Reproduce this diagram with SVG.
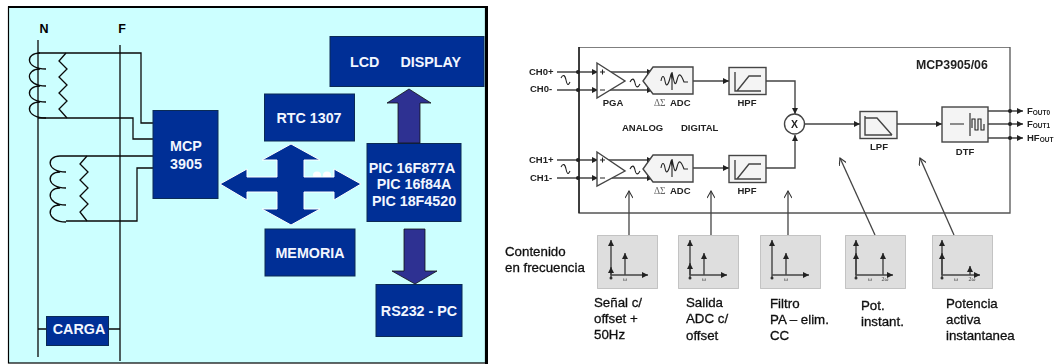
<svg xmlns="http://www.w3.org/2000/svg" width="1054" height="364" viewBox="0 0 1054 364">
<style>
.bl{fill:#002F96;stroke:#0B2B55;stroke-width:1}
.w{font:bold 14.300px "Liberation Sans",Arial,sans-serif;fill:#F2F6FF;text-anchor:middle}
.k{fill:none;stroke:#0A0A0A;stroke-width:1.3}
.p{fill:#2E3192;stroke:#111;stroke-width:.8}
.g{fill:none;stroke:#444;stroke-width:1.400}
.ga{fill:none;stroke:#444;stroke-width:1.400;marker-end:url(#a)}
.t{font:bold 9.500px "Liberation Sans",Arial,sans-serif;fill:#222}
.c{text-anchor:middle}
.s{font:13.300px "Liberation Sans",Arial,sans-serif;fill:#111;stroke:#111;stroke-width:.3}
.sb{fill:#DEDEDE;stroke:#999;stroke-width:1;stroke-dasharray:1 1}
.call{fill:none;stroke:#444;stroke-width:1.300;marker-end:url(#o)}
.box{fill:#F4F4F4;stroke:#444;stroke-width:1.400}
.wave{fill:none;stroke:#222;stroke-width:1.100}
.w2{font:6px "Liberation Serif",serif;fill:#444;text-anchor:middle}
</style>
<defs>
<marker id="a" markerWidth="7" markerHeight="6" refX="6" refY="3" orient="auto" markerUnits="userSpaceOnUse"><path d="M0 0L6 3L0 6z" fill="#222"/></marker>
<marker id="o" markerWidth="9" markerHeight="8" refX="8" refY="4" orient="auto" markerUnits="userSpaceOnUse"><path d="M1 0L8 4L1 8" fill="none" stroke="#333" stroke-width="1.100"/></marker>
<filter id="b" x="0" y="0" width="100%" height="100%"><feGaussianBlur stdDeviation="0.3"/></filter>
</defs>
<rect width="1054" height="364" fill="#fff"/>

<g id="panel-left">
<rect x="8.500" y="7" width="477" height="356" fill="#CCFFFF" stroke="#000" stroke-width="1.200"/>
<rect x="485" y="6" width="3" height="358" fill="#000"/>
<rect x="8" y="6" width="478" height="2" fill="#000"/>
</g>

<g id="connectors-left">
<path class="k" d="M38 40V357M120 45V361"/>
<path class="k" d="M38 53H141V123H153M38 118H133V139H153M60 156H153M66 221H137V168H153M38 329H46M108 329H120"/>
<path class="k" d="M40 53C25 53 25 69 46 69M40 69C25 69 25 86 46 86M40 86C25 86 25 102 46 102M40 102C25 102 25 118 46 118"/>
<path class="k" d="M60 156C46 156 46 172 66 172M60 172C46 172 46 188 66 188M60 188C46 188 46 205 66 205M60 205C46 205 46 222 66 222"/>
<path class="k" d="M66 53L59 61L67 69L59 77L67 85L59 93L67 101L59 109L67 118"/>
<path class="k" d="M87 156L80 164L88 172L80 180L88 188L80 196L88 204L80 212L87 221"/>
</g>

<g id="label-N"><text x="44" y="33" style="font:bold 12.500px 'Liberation Sans',Arial,sans-serif;fill:#000" text-anchor="middle">N</text></g>
<g id="label-F"><text x="122" y="33" style="font:bold 12.500px 'Liberation Sans',Arial,sans-serif;fill:#000" text-anchor="middle">F</text></g>

<g id="node-mcp"><rect class="bl" x="153" y="110.500" width="65" height="88"/><text class="w" x="186" y="151">MCP</text><text class="w" x="186" y="169">3905</text></g>
<g id="node-carga"><rect class="bl" x="46.500" y="316.500" width="62" height="29"/><text class="w" x="79" y="334">CARGA</text></g>
<g id="node-lcd"><rect class="bl" x="330" y="36.500" width="154" height="50"/><text class="w" x="350" y="67" style="text-anchor:start">LCD</text><text class="w" x="400.500" y="67" style="text-anchor:start">DISPLAY</text></g>
<g id="node-rtc"><rect class="bl" x="264.500" y="94" width="90" height="47"/><text class="w" x="309" y="123">RTC 1307</text></g>
<g id="node-memoria"><rect class="bl" x="265" y="229" width="90" height="47"/><text class="w" x="310" y="258">MEMORIA</text></g>
<g id="node-pic"><rect class="bl" x="367" y="143.500" width="94" height="78"/><text class="w" x="412" y="173">PIC 16F877A</text><text class="w" x="414" y="189">PIC 16f84A</text><text class="w" x="414" y="206">PIC 18F4520</text></g>
<g id="node-rs232"><rect class="bl" x="376" y="284.500" width="86" height="52"/><text class="w" x="419" y="316">RS232 - PC</text></g>

<g id="arrows-left">
<path class="p" d="M398 143V103H387L409 89L431 103H420V143z"/>
<path class="p" d="M404 229H425V271H437L415 284L392 271H404z"/>
<ellipse cx="317" cy="175" rx="4" ry="3.500" fill="#fff"/><ellipse cx="327" cy="175" rx="4" ry="3.500" fill="#fff"/>
<path fill="#002F96" stroke="#fff" stroke-width="1" d="M220 184L247 169V177H277V160H262L291 144L320 160H304V177H334V169L361 184L334 200V192H304V209H320L291 225L262 209H277V192H247V200z"/>
</g>

<g filter="url(#b)">
<g id="chip-box"><path d="M579 47H1010V213H579z" fill="#fff" stroke="#555" stroke-width="1.300"/><path d="M579 47V213" stroke="#111" stroke-width="1.300"/></g>

<g id="connectors-right">
<path class="ga" d="M557 72H598"/><path class="ga" d="M557 90H598"/><path class="ga" d="M557 160H598"/><path class="ga" d="M557 178H598"/>
<path class="ga" d="M600 72H653"/><path class="ga" d="M600 90H653"/><path class="ga" d="M600 160H653"/><path class="ga" d="M600 178H653"/>
<path class="ga" d="M693 81H729"/><path class="ga" d="M693 168H729"/>
<path class="ga" d="M766 81H795V114"/><path class="ga" d="M766 168H795V135"/>
<path class="ga" d="M805 124H860"/><path class="ga" d="M897 124H942"/>
<path class="ga" d="M988 111H1023"/><path class="ga" d="M988 124H1023"/><path class="ga" d="M988 138H1023"/>
<g fill="#222"><circle cx="578" cy="72" r="2"/><circle cx="578" cy="90" r="2"/><circle cx="578" cy="160" r="2"/><circle cx="578" cy="178" r="2"/><circle cx="1010" cy="111" r="2"/><circle cx="1010" cy="124" r="2"/><circle cx="1010" cy="138" r="2"/></g>
<path class="call" d="M629 235V191"/><path class="call" d="M711 235V191"/><path class="call" d="M788 235V191"/><path class="call" d="M875 235L840 158"/><path class="call" d="M954 235L920 158"/>
</g>

<g id="pga0"><path d="M597 63L625 81L597 98z" fill="#fff" stroke="#444" stroke-width="1.400"/><text class="t c" x="613" y="106">PGA</text><path class="wave" d="M561 78C563 74 565 75 566 80S568 86 570 82M630 82C632 78 634 78 635 83S638 88 640 84M600 72H605M602.500 69.500V74.500M600 90H605"/></g>
<g id="pga1"><path d="M597 152L625 171L597 186z" fill="#fff" stroke="#444" stroke-width="1.400"/><path class="wave" d="M561 167C563 163 565 164 566 169S568 175 570 171M630 169C632 165 634 165 635 170S638 175 640 171M600 160H605M602.500 157.500V162.500M600 178H605"/></g>
<g id="adc0"><path class="box" d="M653 67H693V94H653L643 81z"/><path class="wave" d="M661 81C662 75 664 75 665 81S668 86 670 78S671 74 672 80V90V72C674 82 675 88 677 80S681 74 684 82H688"/><text x="654" y="106" style="font:9.500px 'Liberation Serif',serif;fill:#666">ΔΣ</text><text class="t" x="670" y="106">ADC</text></g>
<g id="adc1"><path class="box" d="M653 155H693V182H653L643 169z"/><path class="wave" d="M661 168C662 162 664 162 665 168S668 173 670 165S671 161 672 167V177V159C674 169 675 175 677 167S681 161 684 169H688"/><text x="654" y="194" style="font:9.500px 'Liberation Serif',serif;fill:#666">ΔΣ</text><text class="t" x="670" y="194">ADC</text></g>
<g id="hpf0"><rect class="box" x="729" y="67.500" width="37" height="27"/><path class="g" d="M735 72V91H737L749 76H761M735 91H761"/><text class="t c" x="747" y="106">HPF</text></g>
<g id="hpf1"><rect class="box" x="729" y="155.500" width="37" height="27"/><path class="g" d="M735 160V179H737L749 164H761M735 179H761"/><text class="t c" x="747" y="194">HPF</text></g>
<g id="mult"><circle cx="794.500" cy="124" r="10" fill="#fff" stroke="#444" stroke-width="1.400"/><text class="t c" x="794.500" y="127.500" style="font-size:10.500px">X</text></g>
<g id="lpf"><rect class="box" x="860" y="111.500" width="37" height="27"/><path class="g" d="M865 116V135H892M865 118H877L892 135"/><text class="t c" x="879" y="150">LPF</text></g>
<g id="dtf"><rect class="box" x="942" y="107" width="46" height="35"/><path class="wave" d="M950 124H964M970 113V136M972 128V119H975V130H978V119H981V130H984V124"/><text class="t c" x="965" y="155">DTF</text></g>

<g id="labels-right">
<text class="t" x="529" y="75">CH0+</text><text class="t" x="530" y="92">CH0-</text><text class="t" x="529" y="163">CH1+</text><text class="t" x="530" y="181">CH1-</text>
<text class="t" x="622" y="131">ANALOG</text><text class="t" x="681" y="131">DIGITAL</text>
<text x="916" y="68.500" style="font:bold 12.300px 'Liberation Sans',Arial,sans-serif;fill:#222">MCP3905/06</text>
<text class="t" x="1027" y="114">F<tspan style="font-size:6.500px" dy="1">OUT0</tspan></text>
<text class="t" x="1027" y="127">F<tspan style="font-size:6.500px" dy="1">OUT1</tspan></text>
<text class="t" x="1027" y="141">HF<tspan style="font-size:6.500px" dy="1">OUT</tspan></text>
<text class="s" x="505" y="256">Contenido</text><text class="s" x="505" y="272">en frecuencia</text>
<text class="s" x="594" y="307">Señal c/</text><text class="s" x="594" y="323">offset +</text><text class="s" x="594" y="339">50Hz</text>
<text class="s" x="686" y="307">Salida</text><text class="s" x="686" y="323">ADC c/</text><text class="s" x="686" y="340">offset</text>
<text class="s" x="770" y="308">Filtro</text><text class="s" x="770" y="324">PA – elim.</text><text class="s" x="770" y="340">CC</text>
<text class="s" x="861" y="310">Pot.</text><text class="s" x="861" y="326">instant.</text>
<text class="s" x="946" y="308">Potencia</text><text class="s" x="946" y="324">activa</text><text class="s" x="946" y="340">instantanea</text>
</g>

<g id="spec1"><rect class="sb" x="597.500" y="235.500" width="60" height="53"/><path class="ga" d="M611 278V240"/><path class="ga" d="M611 275V267"/><path class="ga" d="M625 275V253"/><path class="ga" d="M611 275H648"/><circle cx="611" cy="278" r="1.500" fill="#333"/><text class="w2" x="625" y="281">ω</text></g>
<g id="spec2"><rect class="sb" x="678.500" y="235.500" width="60" height="53"/><path class="ga" d="M690 278V240"/><path class="ga" d="M690 275V263"/><path class="ga" d="M704 275V253"/><path class="ga" d="M690 275H727"/><circle cx="690" cy="278" r="1.500" fill="#333"/><text class="w2" x="704" y="281">ω</text></g>
<g id="spec3"><rect class="sb" x="760.500" y="235.500" width="60" height="53"/><path class="ga" d="M772 278V240"/><path class="ga" d="M786 275V253"/><path class="ga" d="M772 275H809"/><circle cx="772" cy="278" r="1.500" fill="#333"/><text class="w2" x="786" y="281">ω</text></g>
<g id="spec4"><rect class="sb" x="845.500" y="235.500" width="60" height="53"/><path class="ga" d="M856 278V240"/><path class="ga" d="M856 275V253"/><path class="ga" d="M883 275V253"/><path class="ga" d="M856 275H893"/><circle cx="856" cy="278" r="1.500" fill="#333"/><text class="w2" x="870" y="281">ω</text><text class="w2" x="885" y="281">2ω</text></g>
<g id="spec5"><rect class="sb" x="932.500" y="235.500" width="60" height="53"/><path class="ga" d="M942 278V240"/><path class="ga" d="M942 275V253"/><path class="ga" d="M970 275V266"/><path class="ga" d="M942 275H980"/><circle cx="942" cy="278" r="1.500" fill="#333"/><text class="w2" x="956" y="281">ω</text><text class="w2" x="972" y="281">2ω</text></g>
</g>
</svg>
